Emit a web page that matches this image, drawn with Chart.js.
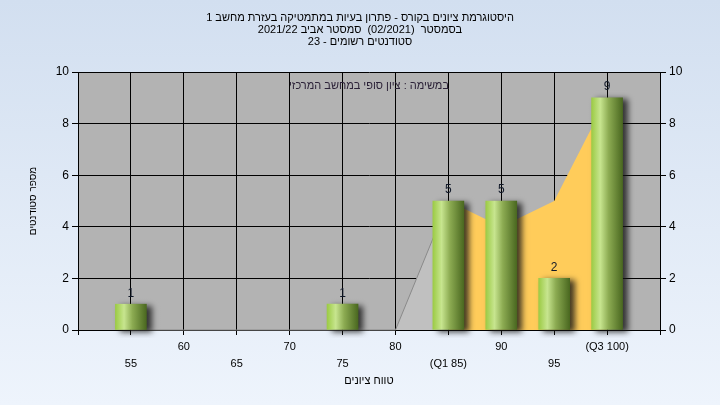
<!DOCTYPE html>
<html><head><meta charset="utf-8">
<script src="https://cdn.jsdelivr.net/npm/chart.js@4"></script>
<style>
html,body{margin:0;padding:0;}
body{width:720px;height:405px;background:linear-gradient(to bottom,#d2dff0,#eef4fc);overflow:hidden}
canvas{display:block}
</style></head><body>
<canvas id="c" dir="rtl" width="720" height="405"></canvas>
<script>
// ---- data ----
const titleLines = [
  'היסטוגרמת ציונים בקורס - פתרון בעיות במתמטיקה בעזרת מחשב 1',
  'בסמסטר  (02/2021)  סמסטר אביב 2021/22',
  'סטודנטים רשומים - 23'
];
const noteText = 'במשימה : ציון סופי במחשב המרכזי';
const xAxisTitle = 'טווח ציונים';
const yAxisTitle = 'מספר סטודנטים';
const gradeBins = [55, 60, 65, 70, 75, 80, 85, 90, 95, 100];
const tickLabels = ['55', '60', '65', '70', '75', '80', '(Q1 85)', '90', '95', '(Q3 100)'];
const studentCounts = [1, 0, 0, 0, 1, 0, 5, 5, 2, 9];
const greyAreaX = [55, 60, 65, 70, 75, 80, 85];
const greyAreaY = [0, 0, 0, 0, 0, 0, 5];
const orangeAreaX = [85, 90, 95, 100];
const orangeAreaY = [5, 4, 5, 9];
const yTicks = [0, 2, 4, 6, 8, 10];

// ---- chart ----
const FONT = '"Liberation Sans", "DejaVu Sans", sans-serif';
Chart.defaults.font.family = FONT;
Chart.defaults.font.size = 12;
Chart.defaults.color = '#000';
const BW = 31;

const plotBg = {
  id: 'plotBg',
  beforeDraw(chart) {
    const { ctx, chartArea: a } = chart;
    ctx.save();
    ctx.fillStyle = '#b3b3b3';
    ctx.fillRect(a.left, a.top, a.right - a.left, a.bottom - a.top);
    ctx.restore();
  }
};

const barShadow = {
  id: 'barShadow',
  beforeDatasetDraw(chart, args) {
    if (args.index !== 0) return;
    const ctx = chart.ctx;
    ctx.save();
    ctx.shadowColor = 'rgba(20,20,20,0.8)';
    ctx.shadowBlur = 6;
    ctx.shadowOffsetX = 5;
    ctx.shadowOffsetY = 2;
  },
  afterDatasetDraw(chart, args) {
    if (args.index !== 0) return;
    chart.ctx.restore();
  }
};

const overlay = {
  id: 'overlay',
  afterDatasetsDraw(chart) {
    const { ctx, chartArea } = chart;
    ctx.save();
    ctx.textAlign = 'center';
    ctx.textBaseline = 'middle';
    ctx.font = '11px ' + FONT;
    ctx.fillStyle = '#2c2238';
    ctx.fillText(noteText, (chartArea.left + chartArea.right) / 2, chartArea.top + 14);
    ctx.font = '12px ' + FONT;
    ctx.fillStyle = '#101828';
    const meta = chart.getDatasetMeta(0);
    meta.data.forEach((el, i) => {
      const v = studentCounts[i];
      if (!v) return;
      ctx.fillText(String(v), el.x, el.y - 11);
    });
    ctx.restore();
  }
};

function barGradient(c) {
  const chart = c.chart;
  if (!chart.chartArea || !c.raw) return '#8fb04f';
  const xc = chart.scales.x.getPixelForValue(c.raw.x);
  const g = chart.ctx.createLinearGradient(xc - BW / 2, 0, xc + BW / 2, 0);
  g.addColorStop(0, '#9ccb45');
  g.addColorStop(0.28, '#c7e58f');
  g.addColorStop(0.55, '#8cab52');
  g.addColorStop(1, '#4a6820');
  return g;
}

new Chart(document.getElementById('c'), {
  type: 'bar',
  data: {
    datasets: [
      {
        type: 'bar',
        data: gradeBins.map((x, i) => ({ x: x, y: studentCounts[i] || null })),
        backgroundColor: barGradient,
        borderWidth: 0,
        barThickness: BW,
        order: 0,
        clip: 8
      },
      {
        type: 'line',
        data: orangeAreaX.map((x, i) => ({ x: x, y: orangeAreaY[i] })),
        backgroundColor: '#ffcc5a',
        borderColor: '#ffcc5a',
        borderWidth: 0,
        pointRadius: 0,
        fill: 'origin',
        tension: 0,
        order: 1
      },
      {
        type: 'line',
        data: greyAreaX.map((x, i) => ({ x: x, y: greyAreaY[i] })),
        backgroundColor: '#c0c0c0',
        borderColor: '#8a8a8a',
        borderWidth: 1,
        pointRadius: 0,
        fill: 'origin',
        tension: 0,
        order: 2,
        clip: 3
      }
    ]
  },
  options: {
    responsive: false,
    animation: false,
    devicePixelRatio: 1,
    layout: { padding: 0 },
    plugins: {
      legend: { display: false },
      tooltip: { enabled: false },
      title: {
        display: true,
        text: titleLines,
        color: '#000',
        font: { size: 11, weight: 'normal', lineHeight: 12 / 11 },
        padding: { top: 12, bottom: 24 }
      }
    },
    scales: {
      x: {
        type: 'linear',
        min: 50,
        max: 105,
        offset: false,
        grid: { color: '#000', tickLength: 5, offset: false, tickColor: '#000' },
        border: { color: '#000' },
        ticks: {
          stepSize: 5,
          autoSkip: false,
          maxRotation: 0,
          padding: 3,
          font: { size: 11, lineHeight: 1.55 },
          callback(v) {
            const i = gradeBins.indexOf(v);
            if (i < 0) return '';
            return i % 2 === 0 ? ['', tickLabels[i]] : [tickLabels[i]];
          }
        },
        title: { display: true, text: xAxisTitle, font: { size: 11 }, padding: { bottom: 17 } },
        afterFit(s) { s.height = 75; }
      },
      y: {
        position: 'left',
        min: 0,
        max: 10,
        afterBuildTicks(s) { s.ticks = yTicks.map(v => ({ value: v })); },
        grid: { color: '#000', tickLength: 6, tickColor: '#000' },
        border: { color: '#000' },
        ticks: { padding: 3, font: { size: 12 } },
        title: { display: true, text: yAxisTitle, font: { size: 10 }, padding: { top: 27 } },
        afterFit(s) { s.width = 78; }
      },
      y2: {
        position: 'right',
        min: 0,
        max: 10,
        afterBuildTicks(s) { s.ticks = yTicks.map(v => ({ value: v })); },
        grid: { drawOnChartArea: false, tickLength: 6, tickColor: '#000' },
        border: { color: '#000' },
        ticks: { padding: 3, font: { size: 12 } },
        afterFit(s) { s.width = 60; }
      }
    }
  },
  plugins: [plotBg, barShadow, overlay]
});
</script>
</body></html>
